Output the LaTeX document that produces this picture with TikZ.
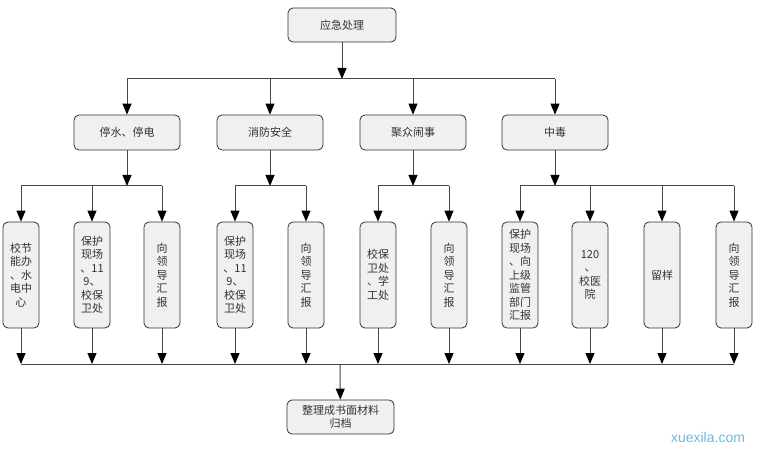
\documentclass[tikz,border=0pt]{standalone}
\usepackage{fontspec}
\newfontfamily\cjk{Noto Sans CJK SC}
\newfontfamily\wmfont{Liberation Sans}
\usetikzlibrary{arrows.meta}
\definecolor{boxfill}{RGB}{240,240,240}
\definecolor{boxline}{RGB}{50,50,50}
\definecolor{linec}{RGB}{70,70,70}
\definecolor{wmcol}{RGB}{110,185,225}
\tikzset{
  box/.style={draw=boxline, fill=boxfill, rounded corners=5pt, line width=0.8pt,
    font=\cjk\fontsize{11}{13.5}\selectfont, align=center, inner sep=0pt, text=black!80},
  hbox/.style={box, minimum width=106pt, minimum height=35pt},
  vbox/.style={box, minimum width=36pt, minimum height=106pt},
  conn/.style={draw=linec, line width=1pt},
  arr/.style={conn, -{Triangle[length=11pt,width=9pt,fill=black,color=black]}}
}
\begin{document}
\begin{tikzpicture}[x=1pt,y=-1pt]
\useasboundingbox[fill=white] (0,0) rectangle (760,449);
% top
\node[box, minimum width=108pt, minimum height=34pt] (top) at (342,25) {应急处理};
% level 1
\node[hbox] (L1) at (127,132.5) {停水、停电};
\node[hbox] (L2) at (270,132.5) {消防安全};
\node[hbox] (L3) at (413,132.5) {聚众闹事};
\node[hbox] (L4) at (555,132.5) {中毒};
% level 2
\node[vbox] (V1) at (21,275) {校节\\能办\\、水\\电中\\心};
\node[vbox] (V2) at (92,275) {保护\\现场\\、11\\9、\\校保\\卫处};
\node[vbox] (V3) at (162,275) {向\\领\\导\\汇\\报};
\node[vbox] (V4) at (235,275) {保护\\现场\\、11\\9、\\校保\\卫处};
\node[vbox] (V5) at (306,275) {向\\领\\导\\汇\\报};
\node[vbox] (V6) at (378,275) {校保\\卫处\\、学\\工处};
\node[vbox] (V7) at (449,275) {向\\领\\导\\汇\\报};
\node[vbox] (V8) at (520,275) {保护\\现场\\、向\\上级\\监管\\部门\\汇报};
\node[vbox] (V9) at (590,275) {120\\、\\校医\\院};
\node[vbox] (V10) at (662,275) {留样};
\node[vbox] (V11) at (734,275) {向\\领\\导\\汇\\报};
% bottom
\node[box, minimum width=107pt, minimum height=34pt] (bot) at (340.5,417) {整理成书面材料\\归档};
% watermark
\node[font=\wmfont\fontsize{14}{14}\selectfont, text=wmcol, inner sep=0pt] (wm) at (708,437) {xuexila.com};

% junctions
\coordinate (j0) at (342,79);
\coordinate (g1) at (127,186);
\coordinate (g2) at (270,186);
\coordinate (g3) at (413,186);
\coordinate (g4) at (555,186);
\coordinate (b) at (340,364);

\draw[arr] (top) -- (j0);
\draw[conn] (j0 -| L1) -- (j0 -| L4);
\foreach \n in {L1,L2,L3,L4} \draw[arr] (j0 -| \n) -- (\n);

\draw[arr] (L1) -- (g1);
\draw[arr] (L2) -- (g2);
\draw[arr] (L3) -- (g3);
\draw[arr] (L4) -- (g4);

\draw[conn] (g1 -| V1) -- (g1 -| V3);
\foreach \n in {V1,V2,V3} \draw[arr] (g1 -| \n) -- (\n);
\draw[conn] (g2 -| V4) -- (g2 -| V5);
\foreach \n in {V4,V5} \draw[arr] (g2 -| \n) -- (\n);
\draw[conn] (g3 -| V6) -- (g3 -| V7);
\foreach \n in {V6,V7} \draw[arr] (g3 -| \n) -- (\n);
\draw[conn] (g4 -| V8) -- (g4 -| V11);
\foreach \n in {V8,V9,V10,V11} \draw[arr] (g4 -| \n) -- (\n);

\foreach \n in {V1,V2,V3,V4,V5,V6,V7,V8,V9,V10,V11} \draw[arr] (\n) -- (b -| \n);
\draw[conn] (b -| V1) -- (b -| V11);
\draw[arr] (b) -- (bot);
\end{tikzpicture}
\end{document}
